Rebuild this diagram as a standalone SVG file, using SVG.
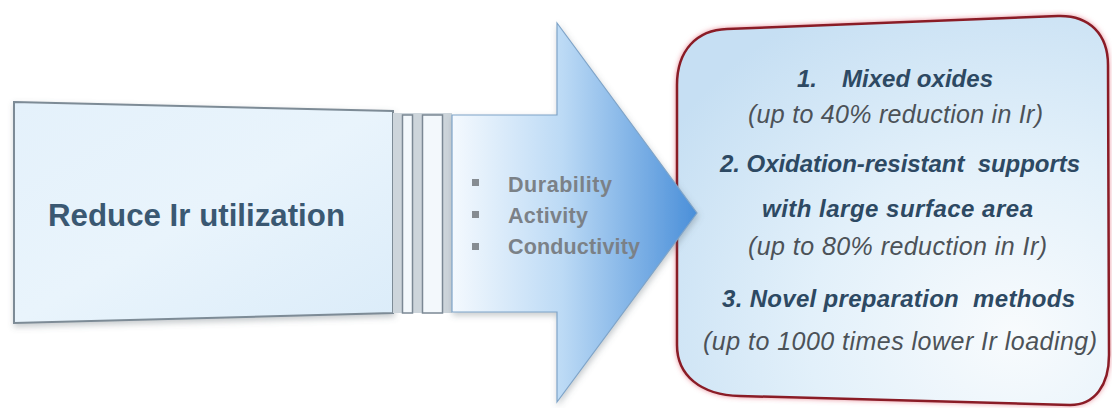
<svg xmlns="http://www.w3.org/2000/svg" width="1112" height="408" viewBox="0 0 1112 408">
  <defs>
    <linearGradient id="arrowFill" x1="452" y1="0" x2="697" y2="0" gradientUnits="userSpaceOnUse">
      <stop offset="0" stop-color="#f4f9fe"/>
      <stop offset="0.45" stop-color="#bcdaf5"/>
      <stop offset="1" stop-color="#4a8fd9"/>
    </linearGradient>
    <linearGradient id="leftFill" x1="0" y1="0" x2="1" y2="1">
      <stop offset="0" stop-color="#e4f1fb"/>
      <stop offset="0.5" stop-color="#e9f4fc"/>
      <stop offset="1" stop-color="#dbecf9"/>
    </linearGradient>
    <radialGradient id="rightFill" cx="0.78" cy="0.82" r="0.95">
      <stop offset="0" stop-color="#f8fbfd"/>
      <stop offset="0.5" stop-color="#e2f0fa"/>
      <stop offset="1" stop-color="#c6dff3"/>
    </radialGradient>
    <filter id="softShadow" x="-10%" y="-10%" width="120%" height="130%">
      <feDropShadow dx="1" dy="3" stdDeviation="3" flood-color="#5a6670" flood-opacity="0.35"/>
    </filter>
    <filter id="redGlow" x="-10%" y="-10%" width="120%" height="120%">
      <feDropShadow dx="0" dy="0" stdDeviation="2.5" flood-color="#d8485a" flood-opacity="0.6"/>
    </filter>
    <style>
      .bullet-text { font-family: "Liberation Sans", Arial, sans-serif; font-weight: bold; font-size: 21.5px; fill: #7b8187; }
      .bullet { fill: #868c92; }
      .head { font-family: "Liberation Sans", Arial, sans-serif; font-weight: bold; font-style: italic; font-size: 24px; fill: #2d4963; }
      .note { font-family: "Liberation Sans", Arial, sans-serif; font-style: italic; font-size: 25px; fill: #4c5258; }
      .stripe { fill: #f3f8fc; stroke: #7b8894; stroke-width: 1.5; }
    </style>
  </defs>

  <rect width="1112" height="408" fill="#ffffff"/>

  <!-- goal box -->
  <g id="reduce">
    <polygon points="14,102 393,111 393,313 14,323" fill="url(#leftFill)" stroke="#7d8b96" stroke-width="2" filter="url(#softShadow)"/>
    <text x="48" y="226" font-family="Liberation Sans, Arial, sans-serif" font-weight="bold" font-size="31.5" fill="#3a5872" textLength="297" lengthAdjust="spacingAndGlyphs">Reduce Ir utilization</text>
  </g>

  <!-- approaches box -->
  <g id="approaches">
    <path d="M 727 29 L 1058 16 C 1090 15 1108 35 1108 65 L 1109 355 C 1109 385 1095 405 1070 405 L 740 396 C 700 395 677 375 677 345 L 677 85 C 677 50 697 30 727 29 Z" fill="url(#rightFill)" stroke="#8a1c26" stroke-width="2.5" filter="url(#redGlow)"/>
    <text class="head" y="87"><tspan x="797">1.</tspan><tspan x="842" textLength="151" lengthAdjust="spacing">Mixed oxides</tspan></text>
    <text class="note" x="748" y="123" textLength="295" lengthAdjust="spacing">(up to 40% reduction in Ir)</text>
    <text class="head" x="720" y="172" textLength="360" lengthAdjust="spacing" xml:space="preserve">2. Oxidation-resistant  supports</text>
    <text class="head" x="762" y="217" textLength="271" lengthAdjust="spacing">with large surface area</text>
    <text class="note" x="748" y="255" textLength="299" lengthAdjust="spacing">(up to 80% reduction in Ir)</text>
    <text class="head" x="722" y="307" textLength="353" lengthAdjust="spacing" xml:space="preserve">3. Novel preparation  methods</text>
    <text class="note" x="703" y="350" textLength="394" lengthAdjust="spacing">(up to 1000 times lower Ir loading)</text>
  </g>

  <!-- striped block arrow linking the goal to the approaches -->
  <g id="connectors">
    <rect x="393" y="113" width="59" height="200" fill="#cdd5db"/>
    <rect class="stripe" x="402.5" y="115" width="10" height="198"/>
    <rect class="stripe" x="422.5" y="115" width="20" height="198"/>
    <polygon points="452,115 557,115 557,23 697,213 557,402 557,312 452,312" fill="url(#arrowFill)" stroke="#7fa4c8" stroke-width="1.2" filter="url(#softShadow)"/>
    <rect class="bullet" x="472" y="179" width="7" height="7"/>
    <rect class="bullet" x="472" y="211" width="7" height="7"/>
    <rect class="bullet" x="472" y="243" width="7" height="7"/>
    <text class="bullet-text" x="508" y="192" textLength="104" lengthAdjust="spacing">Durability</text>
    <text class="bullet-text" x="508" y="223" textLength="80" lengthAdjust="spacing">Activity</text>
    <text class="bullet-text" x="508" y="254" textLength="132" lengthAdjust="spacing">Conductivity</text>
  </g>
</svg>
